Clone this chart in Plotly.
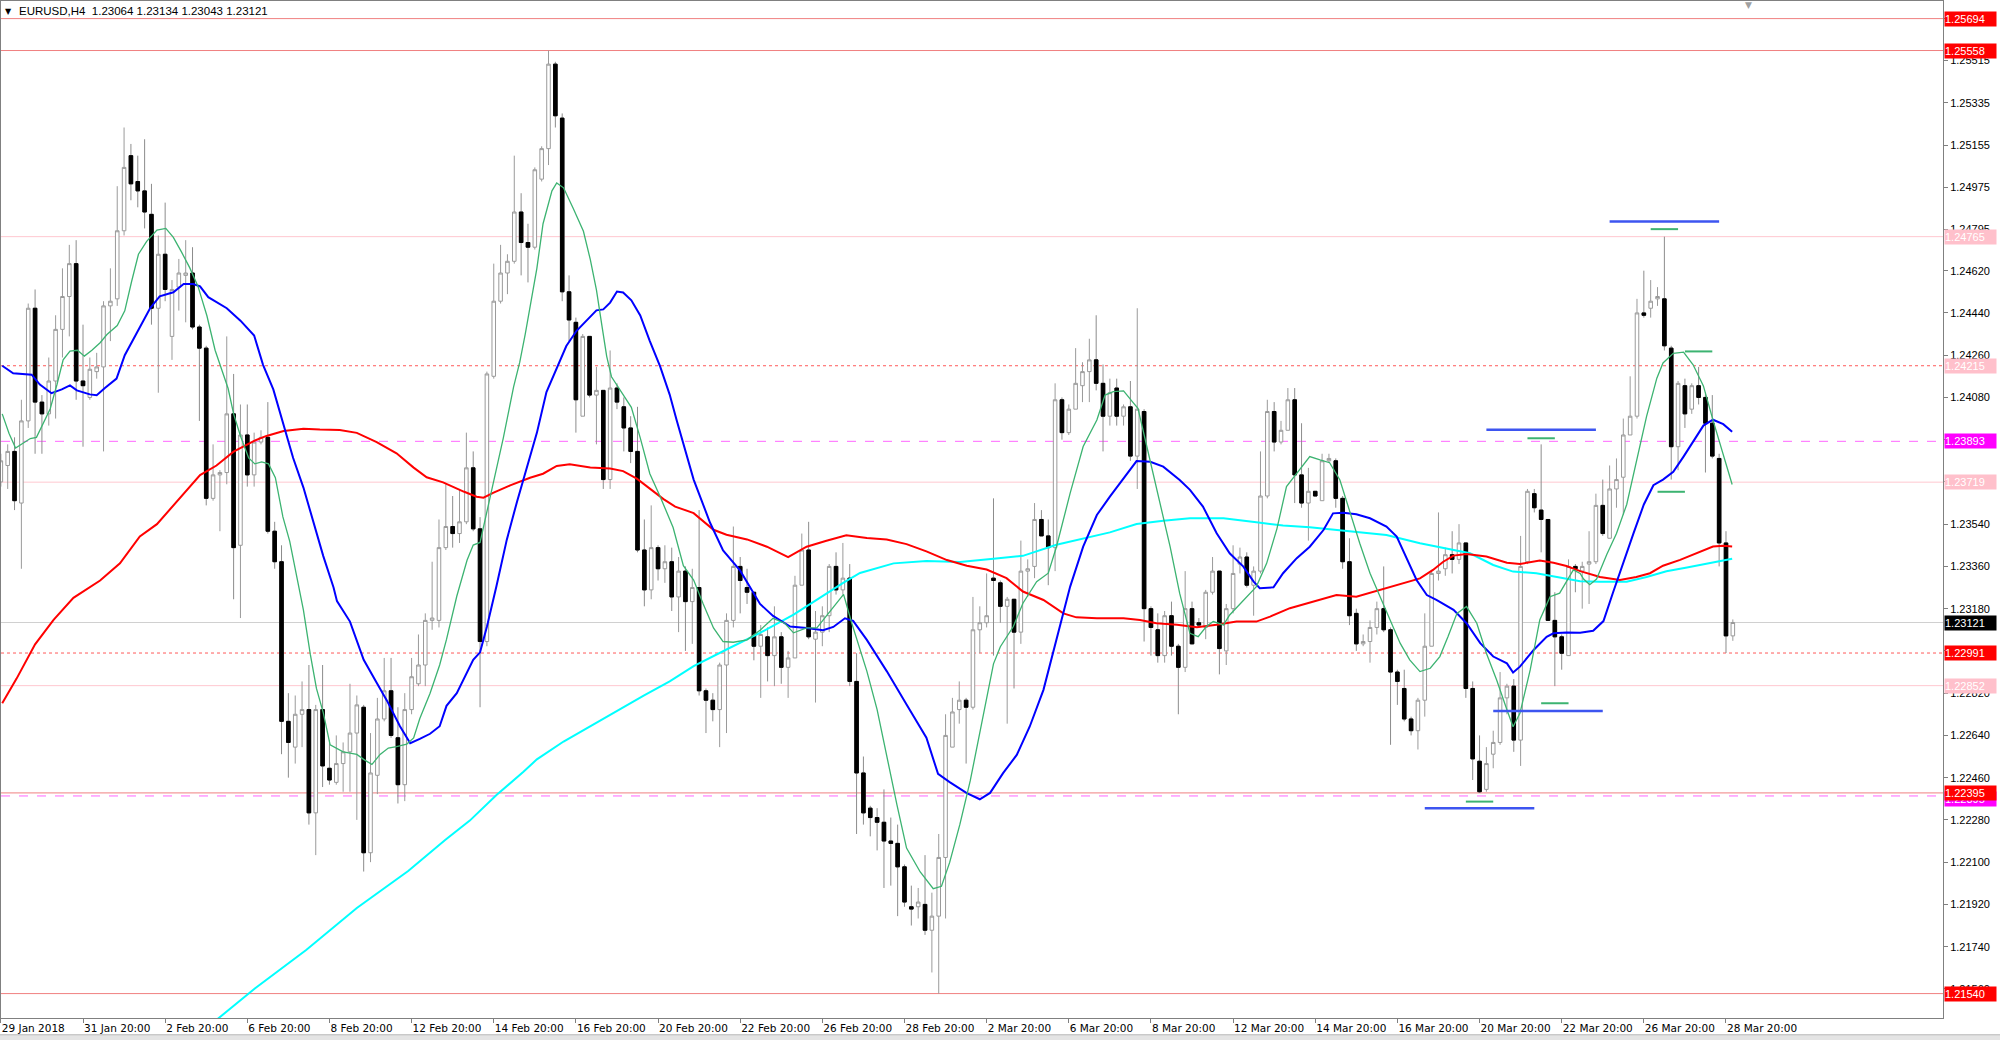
import plotly.graph_objects as go

# ---------------- data (EURUSD H4, bar index 0 = 29 Jan 2018 20:00) ----------------
open_ = [1.2372,1.2379,1.2385,1.2363,1.2398,1.2446,1.2406,1.2401,1.2415,1.2437,
 1.2451,1.2465,1.2415,1.2408,1.2419,1.2421,1.2447,1.2450,1.2479,1.2511,
 1.2500,1.2496,1.2486,1.2446,1.2469,1.2434,1.2455,1.2460,1.2461,1.2438,
 1.2429,1.2365,1.2375,1.2376,1.2401,1.2345,1.2392,1.2375,1.2389,1.2391,
 1.2351,1.2338,1.2270,1.2259,1.2273,1.2275,1.2231,1.2275,1.2250,1.2244,
 1.2252,1.2257,1.2265,1.2276,1.2214,1.2247,1.2271,1.2283,1.2263,1.2243,
 1.2275,1.2286,1.2294,1.2313,1.2313,1.2344,1.2353,1.2350,1.2355,1.2378,
 1.2352,1.2304,1.2417,1.2449,1.2461,1.2466,1.2487,1.2474,1.2472,1.2501,
 1.2514,1.2550,1.2527,1.2453,1.2440,1.2400,1.2434,1.2409,1.2411,1.2373,
 1.2412,1.2404,1.2395,1.2385,1.2343,1.2326,1.2344,1.2335,1.2338,1.2323,
 1.2334,1.2321,1.2327,1.2283,1.2279,1.2275,1.2294,1.2313,1.2336,1.2327,
 1.2325,1.2302,1.2306,1.2298,1.2306,1.2293,1.2297,1.2328,1.2343,1.2305,
 1.2308,1.2315,1.2336,1.2326,1.2331,1.2287,1.2248,1.2233,1.2229,1.2227,
 1.2219,1.2218,1.2208,1.2191,1.2191,1.2192,1.2181,1.2187,1.2212,1.2259,
 1.2275,1.2279,1.2276,1.2309,1.2312,1.2331,1.2329,1.2319,1.2322,1.2308,
 1.2334,1.2336,1.2356,1.2349,1.2344,1.2407,1.2393,1.2403,1.2413,1.2419,
 1.2424,1.2414,1.2400,1.2412,1.2400,1.2404,1.2383,1.2402,1.2318,1.2309,
 1.2298,1.2315,1.2302,1.2293,1.2318,1.2312,1.2310,1.2325,1.2334,1.2300,
 1.2318,1.2337,1.2340,1.2328,1.2334,1.2366,1.2402,1.2389,1.2394,1.2407,
 1.2375,1.2363,1.2368,1.2364,1.2381,1.2381,1.2365,1.2338,1.2316,1.2303,
 1.2304,1.2310,1.2318,1.2309,1.2291,1.2284,1.2271,1.2266,1.2279,1.2302,
 1.2333,1.2335,1.2341,1.2339,1.2346,1.2284,1.2253,1.2241,1.2256,1.2261,
 1.2280,1.2285,1.2262,1.2338,1.2367,1.2360,1.2356,1.2313,1.2306,1.2298,
 1.2336,1.2334,1.2337,1.2338,1.2362,1.2348,1.2369,1.2374,1.2392,1.2400,
 1.2444,1.2446,1.2450,1.2450,1.2429,1.2387,1.2413,1.2403,1.2413,1.2408,
 1.2397,1.2382,1.2346,1.23064]

high = [1.2384,1.2388,1.2391,1.2407,1.2448,1.2454,1.2409,1.2425,1.2443,1.2463,
 1.2473,1.2475,1.2439,1.2425,1.2427,1.2449,1.2463,1.2498,1.2523,1.2516,
 1.2511,1.2518,1.2499,1.2477,1.2491,1.2458,1.2467,1.2475,1.2472,1.2439,
 1.2430,1.2388,1.2377,1.2434,1.2418,1.2405,1.2405,1.2393,1.2394,1.2406,
 1.2355,1.2345,1.2282,1.2281,1.2287,1.2294,1.2277,1.2294,1.2262,1.2264,
 1.2261,1.2286,1.2281,1.2277,1.2265,1.2280,1.2297,1.2297,1.2276,1.2282,
 1.2297,1.2307,1.2316,1.2338,1.2356,1.2371,1.2366,1.2369,1.2393,1.2385,
 1.2357,1.2419,1.2465,1.2473,1.2469,1.2511,1.2495,1.2482,1.2506,1.2515,
 1.25558,1.2551,1.2529,1.2460,1.2442,1.2435,1.2434,1.2421,1.2411,1.2428,
 1.2414,1.2408,1.2400,1.2404,1.2356,1.2362,1.2345,1.2345,1.2344,1.2340,
 1.2336,1.2335,1.2360,1.2284,1.2282,1.2295,1.2316,1.2353,1.2340,1.2335,
 1.2325,1.2311,1.2310,1.2319,1.2308,1.2300,1.2332,1.2350,1.2355,1.2317,
 1.2319,1.2337,1.2342,1.2346,1.2337,1.2299,1.2255,1.2234,1.2233,1.2241,
 1.2229,1.2226,1.2209,1.2200,1.2199,1.2213,1.2197,1.2222,1.2273,1.2280,
 1.2287,1.2280,1.2323,1.2319,1.2333,1.2365,1.2330,1.2323,1.2322,1.2347,
 1.2339,1.2363,1.2360,1.2356,1.2414,1.2408,1.2405,1.2429,1.2423,1.2433,
 1.2443,1.2422,1.2416,1.2416,1.2405,1.2415,1.2446,1.2403,1.2319,1.2316,
 1.2317,1.2321,1.2303,1.2334,1.2321,1.2314,1.2326,1.2340,1.2334,1.2320,
 1.2345,1.2344,1.2342,1.2336,1.2385,1.2407,1.2406,1.2398,1.2412,1.2412,
 1.2397,1.2378,1.2368,1.2384,1.2384,1.2382,1.2366,1.2348,1.2318,1.2307,
 1.2313,1.2321,1.2336,1.2310,1.2292,1.2292,1.2272,1.2280,1.2316,1.2334,
 1.2359,1.2344,1.2351,1.2354,1.2346,1.2287,1.2264,1.2259,1.2266,1.2291,
 1.2286,1.2288,1.2349,1.2369,1.2369,1.2388,1.2356,1.2325,1.2307,1.2339,
 1.2337,1.2338,1.2351,1.2367,1.2373,1.2379,1.2382,1.2399,1.2417,1.2450,
 1.2462,1.2458,1.2455,1.24765,1.2430,1.2415,1.2416,1.2414,1.2421,1.2410,
 1.2409,1.2384,1.2351,1.23134]

low = [1.2370,1.2369,1.2360,1.2335,1.2395,1.2384,1.2384,1.2396,1.2399,1.2425,
 1.2434,1.2407,1.2387,1.2407,1.2416,1.2385,1.2432,1.2447,1.2477,1.2492,
 1.2489,1.2480,1.2439,1.2410,1.2449,1.2424,1.2445,1.2440,1.2437,1.2398,
 1.2362,1.2364,1.2351,1.2371,1.2322,1.2314,1.2370,1.2370,1.2388,1.2350,
 1.2335,1.2256,1.2246,1.2252,1.2259,1.2226,1.2213,1.2242,1.2243,1.2243,
 1.2240,1.2240,1.2228,1.2206,1.2210,1.2239,1.2270,1.2263,1.2235,1.2236,
 1.2273,1.2285,1.2285,1.2309,1.2310,1.2343,1.2344,1.2346,1.2354,1.2351,
 1.2276,1.2302,1.2416,1.2448,1.2452,1.2465,1.2460,1.2457,1.2471,1.2500,
 1.2507,1.2523,1.2449,1.2432,1.2393,1.2400,1.2408,1.2388,1.2369,1.2369,
 1.2403,1.2385,1.2380,1.2342,1.2319,1.2322,1.2330,1.2329,1.2317,1.2308,
 1.2300,1.2303,1.2281,1.2265,1.2270,1.2259,1.2265,1.2310,1.2316,1.2320,
 1.2296,1.2280,1.2287,1.2285,1.2286,1.2280,1.2297,1.2328,1.2305,1.2278,
 1.2302,1.2308,1.2324,1.2324,1.2285,1.2222,1.2226,1.2221,1.2215,1.2199,
 1.2200,1.2187,1.2191,1.2183,1.2186,1.2179,1.2163,1.2154,1.2186,1.2259,
 1.2269,1.2252,1.2275,1.2299,1.2310,1.2298,1.2312,1.2269,1.2284,1.2303,
 1.2323,1.2331,1.2349,1.2328,1.2334,1.2390,1.2392,1.2403,1.2406,1.2406,
 1.2411,1.2385,1.2396,1.2396,1.2396,1.2381,1.2369,1.2304,1.2298,1.2295,
 1.2295,1.2298,1.2273,1.2291,1.2303,1.2310,1.2305,1.2324,1.2290,1.2294,
 1.2316,1.2333,1.2327,1.2315,1.2333,1.2365,1.2385,1.2388,1.2394,1.2363,
 1.2361,1.2347,1.2366,1.2364,1.2380,1.2361,1.2335,1.2311,1.2300,1.2302,
 1.2295,1.2307,1.2308,1.2260,1.2277,1.2270,1.2264,1.2258,1.2272,1.2302,
 1.2330,1.2332,1.2333,1.2337,1.2280,1.2245,1.22395,1.2240,1.2250,1.2260,
 1.2273,1.2257,1.2251,1.2337,1.2359,1.2342,1.2313,1.2285,1.2292,1.2298,
 1.2325,1.2318,1.2320,1.2337,1.2349,1.2348,1.2361,1.2358,1.2392,1.2399,
 1.2442,1.2442,1.2447,1.2428,1.2373,1.2377,1.2395,1.2401,1.2405,1.2376,
 1.2382,1.2336,1.22991,1.23043]

close = [1.2381,1.2385,1.2364,1.2398,1.2446,1.2406,1.2401,1.2415,1.2437,1.2451,
 1.2465,1.2415,1.2413,1.2420,1.2421,1.2447,1.2449,1.2479,1.2506,1.2499,
 1.2496,1.2487,1.2446,1.2469,1.2454,1.2454,1.2461,1.2461,1.2438,1.2429,
 1.2365,1.2375,1.2376,1.2401,1.2344,1.2392,1.2375,1.2389,1.2391,1.2351,
 1.2338,1.2270,1.2261,1.2273,1.2275,1.2231,1.2275,1.2251,1.2245,1.2252,
 1.2257,1.2265,1.2277,1.2214,1.2248,1.2271,1.2283,1.2264,1.2243,1.2275,
 1.2289,1.2294,1.2313,1.2314,1.2344,1.2353,1.2350,1.2355,1.2378,1.2352,
 1.2304,1.2418,1.2449,1.2461,1.2466,1.2487,1.2474,1.2472,1.2505,1.2514,
 1.2550,1.2528,1.2453,1.2441,1.2407,1.2434,1.2409,1.2411,1.2373,1.2412,
 1.2406,1.2395,1.2385,1.2343,1.2326,1.2344,1.2335,1.2338,1.2323,1.2334,
 1.2321,1.2327,1.2283,1.2279,1.2275,1.2294,1.2313,1.2336,1.2330,1.2325,
 1.2302,1.2307,1.2298,1.2306,1.2293,1.2297,1.2328,1.2343,1.2306,1.2308,
 1.2315,1.2336,1.2326,1.2331,1.2287,1.2248,1.2231,1.2229,1.2227,1.2219,
 1.2218,1.2208,1.2193,1.2190,1.2193,1.2181,1.2187,1.2212,1.2264,1.2274,
 1.2279,1.2276,1.2309,1.2312,1.2315,1.2330,1.2319,1.2322,1.2308,1.2334,
 1.2335,1.2356,1.2349,1.2344,1.2407,1.2393,1.2403,1.2414,1.2419,1.2424,
 1.2414,1.2400,1.2410,1.2400,1.2404,1.2383,1.2403,1.2318,1.2310,1.2298,
 1.2315,1.2302,1.2293,1.2318,1.2303,1.2311,1.2325,1.2334,1.2301,1.2318,
 1.2333,1.2340,1.2328,1.2334,1.2366,1.2402,1.2389,1.2394,1.2407,1.2375,
 1.2363,1.2368,1.2366,1.2381,1.2382,1.2365,1.2338,1.2315,1.2303,1.2304,
 1.2310,1.2318,1.2309,1.2291,1.2287,1.2271,1.2266,1.2279,1.2302,1.2333,
 1.2334,1.2341,1.2339,1.2346,1.2284,1.2254,1.2240,1.2252,1.2261,1.2280,
 1.2285,1.2262,1.2336,1.2368,1.2361,1.2356,1.2313,1.2306,1.2299,1.2336,
 1.2335,1.2336,1.2338,1.2362,1.2350,1.2369,1.2373,1.2392,1.2400,1.2444,
 1.2443,1.2449,1.2451,1.2430,1.2387,1.2414,1.2401,1.2413,1.2408,1.2397,
 1.2383,1.2346,1.23064,1.23121]

# moving averages (bar position, price)
ma_fast_x = [0.2,1.2,2.15,3.3,4.3,5.2,6.2,7.2,8.2,9.1,10.1,11.2,12.2,13.3,14.5,15.5,17,18.1,19.1,20.1,
 21.3,22.8,24.1,25.2,26.4,27.6,28.8,30.1,31.3,32.3,33.2,34,35,36.2,37.1,38.1,39.1,40.1,41.2,42.2,
 43.2,44.2,45.2,46.1,47.1,48.1,50,52,53,54.2,55.4,56.6,57.8,59.3,60.3,61.2,62.7,64.1,65.1,66.6,
 68.1,69,70,71,72,73.4,74.9,75.8,76.6,77.5,78.3,79.2,80.5,81.2,82.2,83.6,85.1,86.1,87,87.8,88.5,
 89.2,90.4,92.1,93.4,94.8,96.3,98.2,99.7,101.2,102.6,104.1,105.5,107,109,110.9,112.8,114.5,115.8,
 117.7,119.2,120.6,122.1,123.1,124.3,126.5,128,129.4,130.9,132.3,134.3,136.2,137.4,138.6,140.1,
 141.6,143,145,146,147.9,149.3,151.3,153,154.2,156.2,158.1,160.1,161.3,162.5,164,165.4,166.1,
 167.4,168.8,170.8,172.2,173.7,174.9,176.1,177.1,178.6,179.5,181.5,183.4,184.9,186.4,187.8,189.3,
 191.2,192.7,194.1,195.6,197.1,198.5,200,201.5,202.9,204.4,205.8,207.3,208.8,210.2,211.4,212.7,
 214.1,215.6,217,218.5,220,220.9,221.9,223.4,224.8,226.3,227.7,228.7,229.7,230.7,231.2,232.1,
 233.1,234.6,236,237.5,238.9,240.4,241.9,242.8,244.3,245.8,247.2,248.7,250.1,251.6,252.9]
ma_fast_y = [1.2401,1.23926,1.23864,1.23884,1.23905,1.2391,1.23968,1.24031,1.24135,1.2424,1.24277,
 1.24281,1.24256,1.24281,1.24313,1.24348,1.24386,1.24449,1.24574,1.2469,1.24745,1.24793,1.248,
 1.24762,1.24699,1.24632,1.24553,1.24428,1.24281,1.24198,1.24118,1.2401,1.23916,1.23822,1.23797,
 1.23805,1.23797,1.23738,1.23571,1.23467,1.2332,1.23174,1.22986,1.2284,1.22736,1.226,1.2257,
 1.22559,1.22538,1.22516,1.22559,1.22586,1.22592,1.22603,1.22629,1.22712,1.2282,1.2294,1.23049,
 1.23233,1.23386,1.23451,1.23462,1.23593,1.23734,1.23908,1.24125,1.2423,1.2435,1.2450,1.2463,
 1.2482,1.2496,1.24994,1.24973,1.24886,1.24788,1.24668,1.24538,1.24386,1.24255,1.24168,1.24114,
 1.24038,1.23908,1.23755,1.23658,1.23526,1.23363,1.23302,1.232,1.23098,1.2304,1.23037,1.23047,
 1.23088,1.23139,1.23118,1.23077,1.23098,1.23098,1.23149,1.23204,1.23241,1.23118,1.22914,1.2275,
 1.22547,1.22344,1.2216,1.22058,1.21987,1.21997,1.22099,1.22262,1.22446,1.2265,1.22945,1.23018,
 1.23104,1.23203,1.23295,1.23331,1.23444,1.23672,1.23871,1.23984,1.2409,1.24105,1.24108,1.24058,
 1.24034,1.23871,1.237,1.23444,1.23245,1.23075,1.23061,1.23104,1.23125,1.23111,1.23153,1.23217,
 1.23274,1.23373,1.2352,1.237,1.23757,1.23828,1.23814,1.23802,1.23728,1.23586,1.23459,1.23331,
 1.23231,1.23132,1.23033,1.22962,1.22912,1.22926,1.22976,1.23061,1.2316,1.23189,1.23118,1.2299,
 1.22876,1.22749,1.22677,1.22734,1.22919,1.23132,1.23231,1.23246,1.23295,1.23345,1.2333,1.23306,
 1.23282,1.23306,1.23412,1.235,1.23624,1.23803,1.23999,1.24162,1.24227,1.24268,1.24273,1.24219,
 1.24129,1.23983,1.23836,1.23709]

ma_mid_x = [0.2,1.8,4.5,5.7,7.4,8.9,10.1,11.1,13,14,15.2,16.9,18.1,19.8,21.8,23.2,25.2,26.7,28.1,29.1,
 30.3,33,35,37,38.3,39.8,41.3,42.7,44.2,45.6,47.1,48.6,49.1,51,53,54.9,56.4,58.3,59.8,61.2,62.7,
 64.1,65.1,66.6,68.1,69,70,71,72.4,73.9,75.4,76.8,78.3,79.7,81.2,82.6,84.1,85.6,87,88,89,90,90.9,
 92.1,93.4,94.8,96.3,97.7,98.7,101.2,103.6,105.5,108,110.9,112.8,115.3,117.7,120.1,121.6,123.3,
 124.5,126.5,129.4,132.3,135.2,136.9,138.6,141.1,143,144.5,146.4,148.4,150.3,152.3,154.2,156.2,
 158.1,160.1,162,164,165.9,167.9,169.8,172.2,173.7,175.6,177.6,179.5,181.5,183,183.9,185.9,187.3,
 189.3,191.2,193.2,194.6,196.1,198,200,202.4,203.9,205.4,206.8,208.3,209.7,212.2,214.1,216.1,218,
 220,220.9,221.9,223.9,225.8,226.8,228.7,230.7,232.6,234.1,235.5,237,238.5,240,241.4,242.8,244.3,
 245.8,247.2,248.7,250.1,251.6,252.9]
ma_mid_y = [1.24215,1.24183,1.24177,1.24135,1.24098,1.24114,1.24131,1.2411,1.24093,1.24089,1.2412,
 1.2416,1.2426,1.24355,1.2446,1.24511,1.24528,1.24563,1.24563,1.24553,1.24507,1.2446,1.24407,
 1.24344,1.24219,1.24114,1.23968,1.23822,1.23696,1.2356,1.23404,1.23270,1.23212,1.23125,1.22962,
 1.22864,1.22788,1.22679,1.22607,1.22625,1.22647,1.22679,1.22766,1.2282,1.22907,1.22962,1.22994,
 1.23103,1.23277,1.23473,1.23636,1.23777,1.23929,1.24103,1.24201,1.24299,1.24364,1.24407,1.24451,
 1.24455,1.24484,1.24531,1.24527,1.24494,1.24429,1.2432,1.24212,1.24092,1.23985,1.2373,1.23546,
 1.23428,1.23342,1.232,1.23149,1.23104,1.23098,1.23088,1.23102,1.23139,1.23128,1.23047,1.22914,
 1.22772,1.2263,1.22476,1.22441,1.22394,1.22368,1.22395,1.22479,1.22557,1.22678,1.22834,1.23047,
 1.23274,1.23444,1.23579,1.23657,1.23736,1.23809,1.23806,1.23785,1.23728,1.23686,1.23615,1.23501,
 1.23416,1.23359,1.23295,1.23267,1.23271,1.23331,1.23395,1.23444,1.23515,1.23586,1.23589,1.23582,
 1.23565,1.2353,1.23487,1.23388,1.23302,1.23238,1.23217,1.23175,1.23118,1.23033,1.22976,1.22947,
 1.22908,1.22933,1.23004,1.2306,1.23075,1.23078,1.23077,1.23086,1.23127,1.23249,1.2338,1.23502,
 1.23624,1.23706,1.2373,1.23763,1.23828,1.23893,1.2396,1.23985,1.23966,1.23934]

ma_slow_x = [0.2,2.3,5,7.7,10.6,14.5,17.4,20.3,22.8,26.2,29.1,31.5,34,37,38.8,41.3,44.2,46.6,49.5,52,
 54.9,57.8,60.3,62.2,64.6,67.6,69.5,70.5,71.9,74.4,77.3,79.2,81.2,83.1,86.1,89,90.9,92.9,94.8,96.8,
 98.5,101.2,104.1,106,109,111.9,115,117.7,120.6,123.5,126.5,129.4,132.3,135.2,138.2,141.1,144,146.9,
 149.3,152.3,155.2,157.1,160.1,164,166.4,168.8,171.8,174.7,177.6,180.5,183.4,185.4,188.3,191.2,
 195.1,198,201.5,204.9,207.3,209.2,210.7,212.2,214.1,217,220,221.9,224.8,226.8,228.7,230.7,233.6,
 236.5,238.9,240.9,242.8,245.3,247.7,250.1,251.6,252.9]
ma_slow_y = [1.22777,1.22882,1.23028,1.23132,1.23226,1.233,1.23373,1.23488,1.2354,1.23655,1.23749,
 1.2379,1.23849,1.23895,1.23916,1.23937,1.23947,1.23943,1.23941,1.23929,1.2389,1.23842,1.23781,
 1.2374,1.23718,1.23679,1.23657,1.23653,1.23673,1.23705,1.23738,1.23755,1.23788,1.23795,1.23781,
 1.23777,1.23766,1.23734,1.2369,1.23647,1.23615,1.23587,1.23516,1.23495,1.23475,1.23444,1.234,
 1.23444,1.23469,1.23493,1.23481,1.23475,1.23455,1.23424,1.23387,1.23363,1.23347,1.2331,1.23253,
 1.23217,1.2316,1.23143,1.23139,1.23139,1.23132,1.23118,1.23111,1.23101,1.23111,1.23125,1.23125,
 1.23146,1.23182,1.23207,1.23238,1.23231,1.2326,1.23288,1.23309,1.23345,1.2338,1.23406,1.23413,
 1.23402,1.23376,1.2337,1.23385,1.23376,1.23362,1.2334,1.23315,1.23302,1.23315,1.23331,1.23363,
 1.23388,1.23416,1.23445,1.23448,1.23445]

ma_long_x = [31.5,37.1,44.6,52,59.5,64.9,68.5,72.4,76.3,78.3,82.2,86.1,90,93.9,97.7,101.2,106,110.9,
 115.8,120.6,123.1,125.5,130.4,135.2,140.1,145,149.3,154.2,159.1,162,165.9,169.8,173.7,178.6,183.4,
 187.3,191.2,194.1,197.6,202.4,207.3,212.2,214.6,218,220.9,224.3,226.8,230.7,233.6,237.5,240.4,
 243.3,246.3,249.2,251.6,252.9]
ma_long_y = [1.21428,1.21562,1.21726,1.21905,1.22062,1.22194,1.22277,1.22386,1.22484,1.22538,1.22614,
 1.2268,1.22744,1.2281,1.22870,1.22935,1.23006,1.23077,1.23155,1.23245,1.23291,1.23332,1.23373,
 1.23383,1.23379,1.23393,1.23405,1.23452,1.23487,1.23505,1.23541,1.23555,1.23565,1.23565,1.23548,
 1.23534,1.23527,1.23518,1.23508,1.23494,1.23459,1.2343,1.23416,1.23366,1.23338,1.23331,1.23317,
 1.23297,1.23295,1.23295,1.23315,1.23339,1.23355,1.23372,1.23383,1.23393]

# fractal level segments: price, first bar, last bar
blue_seg_price = [1.24830, 1.23942, 1.22744, 1.22330]
blue_seg_from  = [235, 217, 218, 208]
blue_seg_to    = [251, 233, 234, 224]
green_seg_price = [1.24797, 1.24276, 1.23678, 1.23906, 1.22777, 1.22358]
green_seg_from  = [241, 246, 242, 223, 225, 214]
green_seg_to    = [245, 250, 246, 227, 229, 218]

# horizontal price levels and their right-hand labels
level_price = [1.25694, 1.25558, 1.24765, 1.24215, 1.23893, 1.23719, 1.23121, 1.22991, 1.22852, 1.22382, 1.22395, 1.21540]
level_line  = ["#F08080", "#F08080", "#FFC8D0", "#FF5A5A", "#FF66FF", "#FFC8D0", "#D0D0D0", "#FF5A5A", "#FFC8D0", "#FF66FF", "#F08080", "#F08080"]
level_dash  = ["solid", "solid", "solid", "dot", "dash", "solid", "solid", "dot", "solid", "dash", "solid", "solid"]
level_box   = ["#FF0000", "#FF0000", "#FFC0CB", "#FFC0CB", "#FF00FF", "#FFC0CB", "#000000", "#FF0000", "#FFC0CB", "#FF00FF", "#FF0000", "#FF0000"]
level_text  = ["1.25694", "1.25558", "1.24765", "1.24215", "1.23893", "1.23719", "1.23121", "1.22991", "1.22852", "1.22395", "1.22395", "1.21540"]

price_ticks = [1.21560, 1.21740, 1.21920, 1.22100, 1.22280, 1.22460, 1.22640, 1.22820, 1.23000, 1.23180,
               1.23360, 1.23540, 1.23720, 1.23900, 1.24080, 1.24260, 1.24440, 1.24620, 1.24795, 1.24975,
               1.25155, 1.25335, 1.25515, 1.25695]
price_tick_text = ["1.21560", "1.21740", "1.21920", "1.22100", "1.22280", "1.22460", "1.22640", "1.22820",
                   "1.23000", "1.23180", "1.23360", "1.23540", "1.23720", "1.23900", "1.24080", "1.24260",
                   "1.24440", "1.24620", "1.24795", "1.24975", "1.25155", "1.25335", "1.25515", "1.25695"]

time_tick_bars = [0, 12, 24, 36, 48, 60, 72, 84, 96, 108, 120, 132, 144, 156, 168, 180, 192, 204, 216, 228, 240, 252]
time_tick_text = ["29 Jan 2018", "31 Jan 20:00", "2 Feb 20:00", "6 Feb 20:00", "8 Feb 20:00", "12 Feb 20:00",
                  "14 Feb 20:00", "16 Feb 20:00", "20 Feb 20:00", "22 Feb 20:00", "26 Feb 20:00", "28 Feb 20:00",
                  "2 Mar 20:00", "6 Mar 20:00", "8 Mar 20:00", "12 Mar 20:00", "14 Mar 20:00", "16 Mar 20:00",
                  "20 Mar 20:00", "22 Mar 20:00", "26 Mar 20:00", "28 Mar 20:00"]

title_text = "EURUSD,H4\u00a0\u00a01.23064 1.23134 1.23043 1.23121"

# ---------------- figure ----------------
bars = list(range(len(open_)))
fig = go.Figure()

fig.add_trace(go.Candlestick(
    x=bars, open=open_, high=high, low=low, close=close,
    increasing=dict(line=dict(color="#9A9A9A", width=1), fillcolor="#FFFFFF"),
    decreasing=dict(line=dict(color="#8C8C8C", width=1), fillcolor="#000000"),
    whiskerwidth=0, hoverinfo="skip", showlegend=False))

# solid black bodies for bearish candles (covers the grey outline)
bx = [b for b in bars if close[b] < open_[b]]
fig.add_trace(go.Candlestick(
    x=bx, open=[open_[b] for b in bx], close=[close[b] for b in bx],
    high=[open_[b] for b in bx], low=[close[b] for b in bx],
    increasing=dict(line=dict(color="#000000", width=1), fillcolor="#000000"),
    decreasing=dict(line=dict(color="#000000", width=1), fillcolor="#000000"),
    whiskerwidth=0, hoverinfo="skip", showlegend=False))

fig.add_trace(go.Scatter(x=ma_long_x, y=ma_long_y, mode="lines",
                         line=dict(color="#00FFFF", width=2), hoverinfo="skip", showlegend=False))
fig.add_trace(go.Scatter(x=ma_slow_x, y=ma_slow_y, mode="lines",
                         line=dict(color="#FF0000", width=2), hoverinfo="skip", showlegend=False))
fig.add_trace(go.Scatter(x=ma_mid_x, y=ma_mid_y, mode="lines",
                         line=dict(color="#0000FF", width=2), hoverinfo="skip", showlegend=False))
fig.add_trace(go.Scatter(x=ma_fast_x, y=ma_fast_y, mode="lines",
                         line=dict(color="#3CB371", width=1.3), hoverinfo="skip", showlegend=False))

shapes = []
for p, c, d in zip(level_price, level_line, level_dash):
    shapes.append(dict(type="line", xref="paper", x0=0, x1=1, yref="y", y0=p, y1=p,
                       line=dict(color=c, width=1, dash=d), layer="below"))
for p, a, b in zip(blue_seg_price, blue_seg_from, blue_seg_to):
    shapes.append(dict(type="line", xref="x", x0=a, x1=b, yref="y", y0=p, y1=p,
                       line=dict(color="#3D55F0", width=2.5)))
for p, a, b in zip(green_seg_price, green_seg_from, green_seg_to):
    shapes.append(dict(type="line", xref="x", x0=a, x1=b, yref="y", y0=p, y1=p,
                       line=dict(color="#3CB371", width=2)))
# bottom tab strip of the terminal window
shapes.append(dict(type="rect", xref="paper", yref="paper", x0=-0.01, x1=1.05, y0=-0.0225, y1=-0.0165,
                   fillcolor="#E4E4E4", line=dict(color="#B8B8B8", width=1), layer="above"))

annotations = []
for p, bg, t in zip(level_price, level_box, level_text):
    shift = -3 if (bg == "#FF00FF" and abs(p - 1.22382) < 1e-6) else 0
    annotations.append(dict(xref="paper", x=1, xanchor="left", xshift=1, yref="y", y=p,
                            yanchor="middle", yshift=shift, text=t, showarrow=False,
                            bgcolor=bg, width=51, height=14, borderpad=0, align="left",
                            font=dict(family="Liberation Sans, Arial, sans-serif", size=11, color="#FFFFFF")))
annotations.append(dict(xref="paper", yref="paper", x=0, y=1, xanchor="left", yanchor="top",
                        xshift=2, yshift=-4, text="\u25BC", showarrow=False,
                        font=dict(family="DejaVu Sans", size=8, color="#000000")))
annotations.append(dict(xref="paper", yref="paper", x=0, y=1, xanchor="left", yanchor="top",
                        xshift=16, yshift=-2, text=title_text, showarrow=False,
                        font=dict(family="Liberation Sans, Arial, sans-serif", size=11.5, color="#000000")))
annotations.append(dict(xref="x", yref="paper", x=255.3, y=1, xanchor="center", yanchor="top",
                        yshift=3, text="\u25BC", showarrow=False,
                        font=dict(family="DejaVu Sans", size=9, color="#A0A0A0")))

fig.update_layout(
    width=2000, height=1040,
    margin=dict(l=1, r=57, t=1, b=22, autoexpand=False),
    paper_bgcolor="#FFFFFF", plot_bgcolor="#FFFFFF",
    boxgap=0.3, boxgroupgap=0.26,
    showlegend=False,
    shapes=shapes, annotations=annotations,
    xaxis=dict(range=[0.022, 283.7], rangeslider=dict(visible=False), showgrid=False, zeroline=False,
               tickmode="array", tickvals=time_tick_bars, ticktext=time_tick_text,
               ticks="outside", ticklen=4, tickcolor="#808080", ticklabelposition="outside right",
               showline=True, linecolor="#808080", linewidth=1, mirror=True,
               tickfont=dict(family="DejaVu Sans, sans-serif", size=10.5, color="#000000"), automargin=False),
    yaxis=dict(range=[1.21436, 1.25769], side="right", showgrid=False, zeroline=False,
               tickmode="array", tickvals=price_ticks, ticktext=price_tick_text,
               ticks="outside", ticklen=4, tickcolor="#808080",
               showline=True, linecolor="#808080", linewidth=1, mirror=True,
               tickfont=dict(family="Liberation Sans, Arial, sans-serif", size=11, color="#000000"), automargin=False),
)

fig.write_html("out.html", config={"displayModeBar": False},
               post_script="document.body.style.margin='0';document.body.style.padding='0';document.body.style.overflow='hidden';")
